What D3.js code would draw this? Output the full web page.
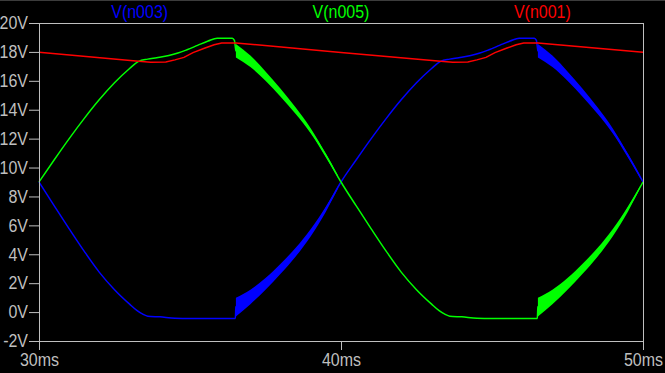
<!DOCTYPE html>
<html>
<head>
<meta charset="utf-8">
<script src="https://cdnjs.cloudflare.com/ajax/libs/d3/7.8.5/d3.min.js"></script>
<style>
  html, body { margin: 0; padding: 0; background: #000; }
  #chart { width: 665px; height: 373px; }
</style>
</head>
<body>
<div id="chart"></div>
<script>
// Transient plot: time in ms, voltage in V
const n003Time = [30, 30.5, 31, 31.5, 32, 32.5, 33, 33.25, 33.45, 33.6, 34, 34.5, 35, 36, 36.5,
  36.52, 37, 37.5, 38, 38.5, 39, 39.5, 40, 40.5, 41, 41.5, 42, 42.5, 43, 43.3, 43.6, 43.9,
  44.3, 44.6, 44.9, 45.25, 45.6, 45.9, 46.4, 46.47, 46.52, 47, 47.5, 48, 48.5, 49, 49.5, 50];
const n003Volt = [9.0, 7.36, 5.76, 4.2, 2.75, 1.55, 0.55, 0.1, -0.16, -0.28, -0.33, -0.42, -0.44, -0.44, -0.44,
  0.35, 1.05, 1.95, 3.0, 4.15, 5.5, 7.15, 9.0, 10.52, 12.0, 13.4, 14.7, 15.86, 16.85, 17.35, 17.5, 17.6,
  17.75, 17.92, 18.15, 18.45, 18.75, 18.95, 18.95, 18.8, 18.1, 17.35, 16.3, 15.15, 13.9, 12.5, 10.85, 9.0];

const n005Time = [30, 30.5, 31, 31.5, 32, 32.5, 33, 33.3, 33.6, 33.9, 34.3, 34.6, 34.9, 35.25, 35.6,
  35.9, 36.4, 36.47, 36.52, 37, 37.5, 38, 38.5, 39, 39.5, 40, 40.5, 41, 41.5, 42, 42.5, 43, 43.25,
  43.45, 43.6, 44, 44.5, 45, 46, 46.5, 46.52, 47, 47.5, 48, 48.5, 49, 49.5, 50];
const n005Volt = [9.0, 10.52, 12.0, 13.4, 14.7, 15.86, 16.85, 17.35, 17.5, 17.6, 17.75, 17.92, 18.15, 18.45, 18.75,
  18.95, 18.95, 18.8, 18.1, 17.35, 16.3, 15.15, 13.9, 12.5, 10.85, 9.0, 7.36, 5.76, 4.2, 2.75, 1.55, 0.55, 0.1,
  -0.16, -0.28, -0.33, -0.42, -0.44, -0.44, -0.44, 0.35, 1.05, 1.95, 3.0, 4.15, 5.5, 7.15, 9.0];

const n001Time = [30, 33.3, 33.7, 34.2, 34.5, 34.8, 35.1, 35.5, 35.8, 36.05, 36.52,
  40, 43.3, 43.7, 44.2, 44.5, 44.8, 45.1, 45.5, 45.8, 46.05, 46.52, 50];
const n001Volt = [17.97, 17.35, 17.29, 17.3, 17.45, 17.62, 17.95, 18.27, 18.5, 18.62, 18.62,
  17.96, 17.35, 17.29, 17.3, 17.45, 17.62, 17.95, 18.27, 18.5, 18.62, 18.62, 17.97];

// envelopes of the fast ringing after each diode turns off
const bandTime1 = [36.52, 37, 37.5, 38, 38.5, 39, 39.5, 39.9];
const bandTime2 = [46.52, 47, 47.5, 48, 48.5, 49, 49.5, 49.9];
const risingBandLow = [-0.3, 0.55, 1.55, 2.65, 3.85, 5.25, 6.95, 8.55];
const risingBandHigh = [1.0, 1.55, 2.35, 3.35, 4.45, 5.75, 7.3, 8.7];
const fallingBandLow = [17.62, 16.95, 16.0, 14.9, 13.7, 12.35, 10.7, 9.3];
const fallingBandHigh = [18.55, 17.75, 16.65, 15.45, 14.15, 12.7, 10.95, 9.45];

const xTicks = [30, 40, 50];
const yTicks = [-2, 0, 2, 4, 6, 8, 10, 12, 14, 16, 18, 20];

const traces = [
  { name: 'V(n003)', color: '#0000ff', time: n003Time, volt: n003Volt, smooth: true,
    bands: [[bandTime1, risingBandLow, risingBandHigh], [bandTime2, fallingBandLow, fallingBandHigh]] },
  { name: 'V(n005)', color: '#00ff00', time: n005Time, volt: n005Volt, smooth: true,
    bands: [[bandTime1, fallingBandLow, fallingBandHigh], [bandTime2, risingBandLow, risingBandHigh]] },
  { name: 'V(n001)', color: '#ff0000', time: n001Time, volt: n001Volt, smooth: false, bands: [] }
];

const width = 665, height = 373;
const margin = { top: 23, right: 22, bottom: 32, left: 39 };
const gray = '#bfbfbf';
const font = '"Liberation Sans", Arial, sans-serif';

const svg = d3.select('#chart').append('svg')
  .attr('width', width)
  .attr('height', height)
  .style('display', 'block');

svg.append('rect').attr('width', width).attr('height', height).attr('fill', '#000');
svg.append('rect').attr('width', width).attr('height', 1).attr('fill', '#3c3c3c');

const x = d3.scaleLinear().domain([30, 50]).range([margin.left, width - margin.right]);
const y = d3.scaleLinear().domain([-2, 20]).range([height - margin.bottom, margin.top]);

// traces (blue, then green, then red on top)
const plot = svg.append('g');
const area = d3.area().x(d => x(d[0])).y0(d => y(d[1])).y1(d => y(d[2])).curve(d3.curveMonotoneX);

traces.forEach(tr => {
  tr.bands.forEach(([t, lo, hi]) => {
    plot.append('path')
      .datum(t.map((v, i) => [v, lo[i], hi[i]]))
      .attr('d', area)
      .attr('fill', tr.color);
  });
  const line = d3.line()
    .x(d => x(d[0]))
    .y(d => y(d[1]))
    .curve(tr.smooth ? d3.curveMonotoneX : d3.curveLinear);
  plot.append('path')
    .datum(tr.time.map((v, i) => [v, tr.volt[i]]))
    .attr('d', line)
    .attr('fill', 'none')
    .attr('stroke', tr.color)
    .attr('stroke-width', 1.5);
});

// axes
const xAxis = svg.append('g')
  .attr('transform', `translate(0,${height - margin.bottom})`)
  .call(d3.axisBottom(x).tickValues(xTicks).tickFormat(d => d + 'ms').tickSize(9).tickSizeOuter(0).tickPadding(2));

const yAxis = svg.append('g')
  .attr('transform', `translate(${margin.left},0)`)
  .call(d3.axisLeft(y).tickValues(yTicks).tickFormat(d => d + 'V').tickSize(10).tickSizeOuter(0).tickPadding(1));

[xAxis, yAxis].forEach(ax => {
  ax.select('.domain').attr('stroke', gray);
  ax.selectAll('.tick line').attr('stroke', gray);
  ax.selectAll('.tick text')
    .attr('fill', gray)
    .attr('font-family', font)
    .attr('font-size', 16)
    .attr('transform', 'scale(1,1.12)');
});

// top and right frame
svg.append('line')
  .attr('x1', margin.left).attr('x2', width - margin.right + 0.5)
  .attr('y1', margin.top + 0.5).attr('y2', margin.top + 0.5)
  .attr('stroke', gray);
svg.append('line')
  .attr('x1', width - margin.right + 0.5).attr('x2', width - margin.right + 0.5)
  .attr('y1', margin.top).attr('y2', height - margin.bottom)
  .attr('stroke', gray);

// trace names across the top
const plotW = width - margin.left - margin.right;
traces.forEach((tr, i) => {
  svg.append('g')
    .attr('transform', `translate(${margin.left + plotW * (2 * i + 1) / 6},18)`)
    .append('text')
    .attr('transform', 'scale(1,1.12)')
    .attr('text-anchor', 'middle')
    .attr('fill', tr.color)
    .attr('font-family', font)
    .attr('font-size', 16)
    .text(tr.name);
});
</script>
</body>
</html>
